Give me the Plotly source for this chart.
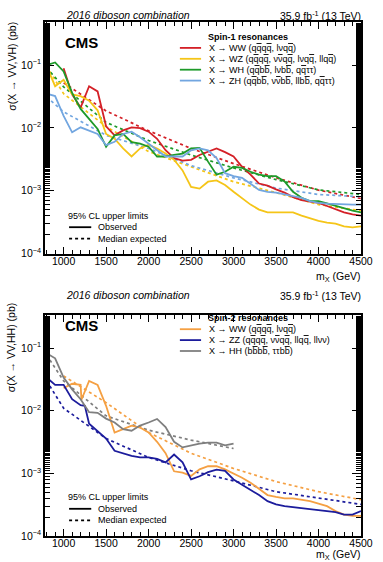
import plotly.graph_objects as go

# ---------------- data (spin-1, top panel) ----------------
mass_full = [800, 900, 1000, 1100, 1200, 1300, 1400, 1500, 1600, 1700, 1800, 1900, 2000,
             2100, 2200, 2300, 2400, 2500, 2600, 2700, 2800, 2900, 3000, 3100, 3200, 3300,
             3400, 3500, 3600, 3700, 3800, 3900, 4000, 4100, 4200, 4300, 4400, 4500]
mass_from1000 = mass_full[2:]
mass_exp = [800, 1000, 1500, 2000, 2500, 3000, 3500, 4000, 4500]
mass_exp1000 = mass_exp[1:]

ww1_obs = [0.089, 0.034, 0.021, 0.046, 0.038, 0.0106, 0.0076, 0.0091, 0.0102, 0.0099, 0.0087,
           0.0067, 0.0044, 0.0033, 0.0030, 0.0031, 0.0037, 0.0042, 0.0047, 0.0041, 0.0035,
           0.0024, 0.0018, 0.0013, 0.0012, 0.00105, 0.00093, 0.00079, 0.00071, 0.00067,
           0.00064, 0.00057, 0.0005, 0.00045, 0.00042, 0.0004]
ww1_exp = [0.052, 0.0186, 0.0090, 0.0047, 0.0027, 0.0016, 0.00102, 0.00075]

wz_obs = [0.096, 0.046, 0.058, 0.034, 0.032, 0.027, 0.019, 0.0080, 0.0067, 0.0047, 0.0035,
          0.0047, 0.0054, 0.0047, 0.0039, 0.0031, 0.0021, 0.00115, 0.00108, 0.00139, 0.00146,
          0.00123, 0.00096, 0.00077, 0.0006, 0.0005, 0.00045, 0.00045, 0.00045, 0.00045,
          0.0004, 0.00036, 0.00033, 0.00031, 0.0003, 0.00027, 0.00026, 0.00027]
wz_exp = [0.095, 0.035, 0.0105, 0.0042, 0.0024, 0.00139, 0.00093, 0.0006, 0.00048]

wh_obs = [0.10, 0.11, 0.079, 0.036, 0.020, 0.0138, 0.0096, 0.0050, 0.0076, 0.0080, 0.0059,
          0.0056, 0.0050, 0.0035, 0.0035, 0.0037, 0.0039, 0.0047, 0.0048, 0.0029, 0.0018,
          0.0020, 0.0024, 0.0023, 0.0020, 0.0018, 0.0017, 0.0017, 0.0014, 0.00096, 0.00077,
          0.00068, 0.00068, 0.00063, 0.00057, 0.00053, 0.00048, 0.00045]
wh_exp = [0.09, 0.045, 0.0122, 0.0063, 0.0037, 0.0023, 0.0015, 0.00103, 0.00087]

zh_obs = [0.035, 0.032, 0.0155, 0.0085, 0.0102, 0.009, 0.008, 0.0053, 0.006, 0.008, 0.0087,
          0.0071, 0.0056, 0.0044, 0.0035, 0.0035, 0.0035, 0.0044, 0.0047, 0.0044, 0.0033,
          0.0019, 0.0017, 0.0016, 0.0013, 0.00103, 0.00096, 0.00093, 0.00087, 0.00082,
          0.00077, 0.00068, 0.00064, 0.00062, 0.00061, 0.0006, 0.0006, 0.0006]
zh_exp = [0.031, 0.018, 0.0076, 0.0047, 0.0025, 0.0016, 0.0011, 0.00087, 0.0008]

# ---------------- data (spin-2, bottom panel) ----------------
ww2_mass = [1000, 1100, 1200, 1210, 1300, 1400, 1500, 1600, 1700, 1800, 1900, 2000, 2100,
            2200, 2300, 2400, 2500, 2600, 2700, 2800, 2900, 3000, 3100, 3200, 3300, 3400,
            3500, 3600, 3700, 3800, 3900, 4000, 4100, 4200, 4300, 4400, 4500]
ww2_obs = [0.023, 0.027, 0.026, 0.015, 0.030, 0.026, 0.012, 0.0045, 0.0051, 0.0058, 0.0054,
           0.0045, 0.0032, 0.0021, 0.00108, 0.00103, 0.00091, 0.00116, 0.0013, 0.0013,
           0.00116, 0.001, 0.00085, 0.00071, 0.00056, 0.00045, 0.00042, 0.0004, 0.0004,
           0.00038, 0.00036, 0.00033, 0.0003, 0.00025, 0.00022, 0.00021, 0.00021]
ww2_exp = [0.036, 0.0135, 0.0045, 0.0021, 0.0012, 0.00074, 0.00051, 0.00038]

zz_mass = [800, 900, 1000, 1100, 1200, 1250, 1300, 1400, 1500, 1600, 1700, 1800, 1900, 2000,
           2100, 2200, 2300, 2400, 2500, 2600, 2700, 2800, 2900, 3000, 3100, 3200, 3300,
           3400, 3500, 3600, 3700, 3800, 3900, 4000, 4100, 4200, 4300, 4400, 4500]
zz_obs = [0.034, 0.026, 0.026, 0.0153, 0.0123, 0.012, 0.0062, 0.0048, 0.0036, 0.0023, 0.0021,
          0.0019, 0.0018, 0.0018, 0.0017, 0.0015, 0.002, 0.0015, 0.0008, 0.0009, 0.00105,
          0.00115, 0.0011, 0.0008, 0.00066, 0.00055, 0.00045, 0.00036, 0.00032, 0.0003,
          0.00029, 0.00028, 0.00027, 0.00026, 0.00025, 0.00024, 0.00022, 0.00022, 0.00025]
zz_exp = [0.03, 0.011, 0.0036, 0.0018, 0.0011, 0.00076, 0.00051, 0.0004, 0.00032]

hh_mass = [800, 900, 1000, 1100, 1200, 1300, 1400, 1500, 1600, 1700, 1800, 1900, 2000, 2100,
           2200, 2300, 2400, 2500, 2600, 2700, 2800, 2900, 3000]
hh_obs = [0.083, 0.069, 0.034, 0.022, 0.0153, 0.0095, 0.0093, 0.0075, 0.0065, 0.0051, 0.0048,
          0.0058, 0.0065, 0.0074, 0.0055, 0.0032, 0.0026, 0.0028, 0.003, 0.0031, 0.0031,
          0.0028, 0.003]
hh_mass_exp = [800, 1000, 1500, 2000, 2500, 3000]
hh_exp = [0.078, 0.03, 0.0083, 0.0049, 0.0034, 0.0025]


def ob(s):
    return '<span style="text-decoration:overline">' + s + '</span>'


Q, B, N = ob("q"), ob("b"), ob("\u03bd")
spin1_labels = ["X \u2192 WW (q" + Q + "q" + Q + ", l\u03bdq" + Q + ")",
                "X \u2192 WZ (q" + Q + "q" + Q + ", \u03bd" + N + "q" + Q + ", l\u03bdq" + Q + ", llq" + Q + ")",
                "X \u2192 WH (q" + Q + "b" + B + ", l\u03bdb" + B + ", q" + Q + "\u03c4\u03c4)",
                "X \u2192 ZH (q" + Q + "b" + B + ", \u03bd" + N + "b" + B + ", llb" + B + ", q" + Q + "\u03c4\u03c4)"]
spin2_labels = ["X \u2192 WW (q" + Q + "q" + Q + ", l\u03bdq" + Q + ")",
                "X \u2192 ZZ (q" + Q + "q" + Q + ", \u03bd" + N + "q" + Q + ", llq" + Q + ", ll\u03bd\u03bd)",
                "X \u2192 HH (b" + B + "b" + B + ", \u03c4\u03c4b" + B + ")"]
x_ticks = [1000, 1500, 2000, 2500, 3000, 3500, 4000, 4500]
y_ticks = [1e-4, 1e-3, 1e-2, 1e-1]
y_ticktext = ["10<sup>\u22124</sup>", "10<sup>\u22123</sup>", "10<sup>\u22122</sup>", "10<sup>\u22121</sup>"]

# ---------------- styling ----------------
C_RED = "#d42027"
C_YEL = "#f5c518"
C_GRN = "#1e9a2a"
C_LBL = "#72a6e0"
C_ORG = "#f5a043"
C_NAV = "#1c1c9c"
C_GRY = "#7f7f7f"
FONT = "Liberation Sans, Arial, sans-serif"

W, H = 383, 562
ML, MR, MT, MB = 45, 10, 22, 26
PW, PH = W - ML - MR, H - MT - MB


def px(xp):
    return (xp - ML) / PW


def py(yp):
    return (H - MB - yp) / PH


fig = go.Figure()

top = dict(xaxis="x", yaxis="y")
bot = dict(xaxis="x2", yaxis="y2")


def add(xs, ys, color, dash, ax):
    fig.add_trace(go.Scatter(x=xs, y=ys, mode="lines",
                             line=dict(color=color, width=1.8 if dash == "solid" else 1.7, dash=dash),
                             showlegend=False, hoverinfo="skip", **ax))


# top panel: expected first, observed on top
add(mass_exp1000, ww1_exp, C_RED, "dot", top)
add(mass_exp, wz_exp, C_YEL, "dot", top)
add(mass_exp, wh_exp, C_GRN, "dot", top)
add(mass_exp, zh_exp, C_LBL, "dot", top)
add(mass_from1000, ww1_obs, C_RED, "solid", top)
add(mass_full, wz_obs, C_YEL, "solid", top)
add(mass_full, wh_obs, C_GRN, "solid", top)
add(mass_full, zh_obs, C_LBL, "solid", top)

# bottom panel
add(mass_exp1000, ww2_exp, C_ORG, "dot", bot)
add(mass_exp, zz_exp, C_NAV, "dot", bot)
add(hh_mass_exp, hh_exp, C_GRY, "dot", bot)
add(ww2_mass, ww2_obs, C_ORG, "solid", bot)
add(zz_mass, zz_obs, C_NAV, "solid", bot)
add(hh_mass, hh_obs, C_GRY, "solid", bot)

xa = dict(range=[781, 4500], tickvals=x_ticks, ticks="inside", ticklen=7, tickwidth=1,
          mirror="allticks", showline=True, linecolor="black", linewidth=1.5,
          showgrid=False, zeroline=False, tickfont=dict(size=10.5, color="black", family=FONT),
          ticklabelstandoff=-3,
          minor=dict(dtick=100, tick0=0, ticks="inside", ticklen=4, tickwidth=1, tickcolor="black"),
          tickcolor="black")
ya = dict(type="log", tickvals=y_ticks, ticktext=y_ticktext, ticks="inside", ticklen=9,
          tickwidth=1, tickcolor="black", mirror="allticks", showline=True, linecolor="black",
          linewidth=1.5, showgrid=False, zeroline=False,
          tickfont=dict(size=10.5, color="black", family=FONT),
          minor=dict(ticks="inside", ticklen=5, tickwidth=1, tickcolor="black", showgrid=False))

fig.update_layout(
    width=W, height=H, margin=dict(l=ML, r=MR, t=MT, b=MB),
    paper_bgcolor="white", plot_bgcolor="white",
    font=dict(family=FONT, color="black"),
    xaxis=dict(xa, anchor="y"),
    yaxis=dict(ya, range=[-4, -0.315], domain=[py(253.5), 1.0], anchor="x"),
    xaxis2=dict(xa, anchor="y2"),
    yaxis2=dict(ya, range=[-4, -0.47], domain=[0.0, py(315)], anchor="x2"),
    showlegend=False,
)

ann = []
shp = []


def text(xp, yp, s, size=9, xanchor="left", yanchor="middle", **kw):
    ann.append(dict(x=px(xp), y=py(yp), xref="paper", yref="paper", text=s, showarrow=False,
                    xanchor=xanchor, yanchor=yanchor, font=dict(size=size, color="black", family=FONT),
                    **kw))


def seg(x0, x1, yp, color, dash="solid", width=1.8):
    shp.append(dict(type="line", xref="paper", yref="paper", x0=px(x0), x1=px(x1), y0=py(yp), y1=py(yp),
                    line=dict(color=color, width=width, dash=dash)))


panels = [
    dict(head=15, cms=43, xt=277, yt=20, leg=37, ll=215.7,
         ylabel="\u03c3(X \u2192 VV,VH) (pb)", header="Spin-1 resonances", labels=spin1_labels,
         colors=[C_RED, C_YEL, C_GRN, C_LBL]),
    dict(head=295, cms=325, xt=554.5, yt=300, leg=318.3, ll=497.3,
         ylabel="\u03c3(X \u2192 VV,HH) (pb)", header="Spin-2 resonances", labels=spin2_labels,
         colors=[C_ORG, C_NAV, C_GRY]),
]

for p in panels:
    text(65, p["head"], "<i>2016 diboson combination</i>", size=10.5)
    text(375, p["head"], "35.9 fb<sup>-1</sup> (13 TeV)", size=10.5, xanchor="right")
    text(64, p["cms"], "<b>CMS</b>", size=15)
    text(375, p["xt"], "m<sub>X</sub> (GeV)", size=10.5, xanchor="right")
    ann.append(dict(x=px(10), y=py(p["yt"]), xref="paper", yref="paper",
                    text=p["ylabel"], showarrow=False, textangle=-90, xanchor="center", yanchor="top",
                    font=dict(size=10.5, color="black", family=FONT)))
    text(212, p["leg"], "<b>" + p["header"] + "</b>", size=9)
    for i, (lab, col) in enumerate(zip(p["labels"], p["colors"])):
        yy = p["leg"] + 10.9 * (i + 1)
        seg(185, 207, yy, col)
        text(213, yy, lab, size=9)
    lb = p["ll"]
    text(67, lb, "95% CL upper limits", size=9)
    seg(70, 93, lb + 11.5, "black")
    text(98, lb + 11.5, "Observed", size=9)
    seg(70, 93, lb + 23, "black", dash="dot", width=1.7)
    text(98, lb + 23, "Median expected", size=9)

fig.update_layout(annotations=ann, shapes=shp)
fig.write_html("out.html")
